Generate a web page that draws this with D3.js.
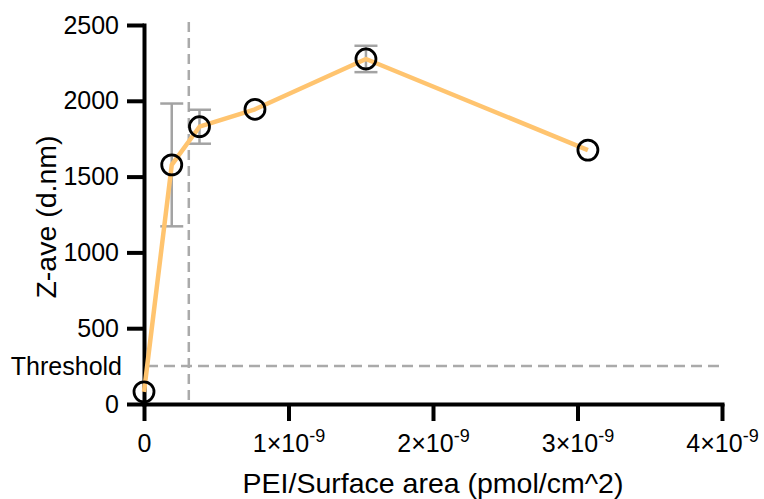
<!DOCTYPE html>
<html>
<head>
<meta charset="utf-8">
<script src="https://cdn.jsdelivr.net/npm/d3@7"></script>
<style>
body{margin:0;background:#fff}
svg{display:block}
text{font-family:'Liberation Sans',Arial,Helvetica,sans-serif;fill:#000}
</style>
</head>
<body>
<svg class="graph"></svg>
<script>
// data
let xVals=[0,0.192e-9,0.384e-9,0.768e-9,1.536e-9,3.072e-9]
let zAve=[80,1577,1829,1944,2276,1675]
let zSd=[0,405,112,0,87,0]
let xTicks=[0,1e-9,2e-9,3e-9,4e-9]
let yTicks=[0,500,1000,1500,2000,2500]
let thresholdVal=250
let thresholdLabel='Threshold'
let refX=0.31e-9

let width=764, height=499
let svg=d3.select('.graph').attr('width',width).attr('height',height)

let xscale=d3.scaleLinear().domain([0,4e-9]).range([144,722])
let yscale=d3.scaleLinear().domain([0,2500]).range([404,25])

let points=xVals.map((x,i)=>({x:x,y:zAve[i],sd:zSd[i]}))

// dashed reference lines
svg.append('line')
   .attr('x1',xscale(refX)).attr('x2',xscale(refX))
   .attr('y1',yscale(2520)).attr('y2',yscale(0))
   .attr('stroke','#aaa').attr('stroke-width',2.5)
   .attr('stroke-dasharray','10,6')
svg.append('line')
   .attr('x1',xscale(0)+3).attr('x2',xscale(4e-9))
   .attr('y1',yscale(thresholdVal)).attr('y2',yscale(thresholdVal))
   .attr('stroke','#aaa').attr('stroke-width',2.5)
   .attr('stroke-dasharray','11,6')

// error bars
let eb=svg.append('g').attr('class','errorbars')
points.filter(d=>d.sd>0).forEach(d=>{
    let cx=xscale(d.x)
    eb.append('line').attr('x1',cx).attr('x2',cx)
      .attr('y1',yscale(d.y-d.sd)).attr('y2',yscale(d.y+d.sd))
    ;[d.y-d.sd,d.y+d.sd].forEach(v=>{
        eb.append('line').attr('x1',cx-11.5).attr('x2',cx+11.5)
          .attr('y1',yscale(v)).attr('y2',yscale(v))
    })
})
eb.selectAll('line').attr('stroke','#a3a3a3').attr('stroke-width',2.5)

// axes
let yaxis=svg.append('g').attr('transform',`translate(${xscale(0)},0)`)
   .call(d3.axisLeft(yscale).tickValues(yTicks).tickSize(17).tickSizeOuter(0).tickPadding(8).tickFormat(d3.format('d')))
let xaxis=svg.append('g').attr('transform',`translate(0,${yscale(0)})`)
   .call(d3.axisBottom(xscale).tickValues(xTicks).tickSize(17).tickSizeOuter(0).tickPadding(10).tickFormat(''))

;[yaxis,xaxis].forEach(a=>{
    a.select('.domain').attr('stroke','#000').attr('stroke-width',4).attr('stroke-linecap','square')
    a.selectAll('.tick line').attr('stroke','#000').attr('stroke-width',4)
})
yaxis.selectAll('.tick text').style('font-size','25px').attr('fill','#000')

// x tick labels with superscript exponents
xaxis.selectAll('.tick').each(function(d){
    let t=d3.select(this).append('text')
        .attr('y',48).attr('text-anchor','middle')
        .style('font-size','25px').attr('fill','#000')
    if(d===0){ t.text('0'); return }
    let m=Math.round(d/1e-9)
    t.append('tspan').text(m+'×10')
    t.append('tspan').attr('dy',-10).style('font-size','18px').text('-9')
})

// threshold label
svg.append('text')
   .attr('x',122).attr('y',yscale(thresholdVal)).attr('dy','0.35em')
   .attr('text-anchor','end').style('font-size','25px')
   .text(thresholdLabel)

// line + markers
let line=d3.line().x(d=>xscale(d.x)).y(d=>yscale(d.y))
svg.append('path').datum(points)
   .attr('d',line).attr('fill','none')
   .attr('stroke','#ffc46f').attr('stroke-width',4.5).attr('stroke-linejoin','round')
svg.selectAll('circle.pt').data(points).join('circle')
   .attr('class','pt')
   .attr('cx',d=>xscale(d.x)).attr('cy',d=>yscale(d.y)).attr('r',10)
   .attr('fill','none').attr('stroke','#000').attr('stroke-width',2.8)

// axis titles
svg.append('text')
   .attr('x',433).attr('y',493).attr('text-anchor','middle')
   .style('font-size','28.5px')
   .text('PEI/Surface area (pmol/cm^2)')
svg.append('text')
   .attr('transform','translate(56,217) rotate(-90)')
   .attr('text-anchor','middle')
   .style('font-size','28.5px')
   .text('Z-ave (d.nm)')
</script>
</body>
</html>
